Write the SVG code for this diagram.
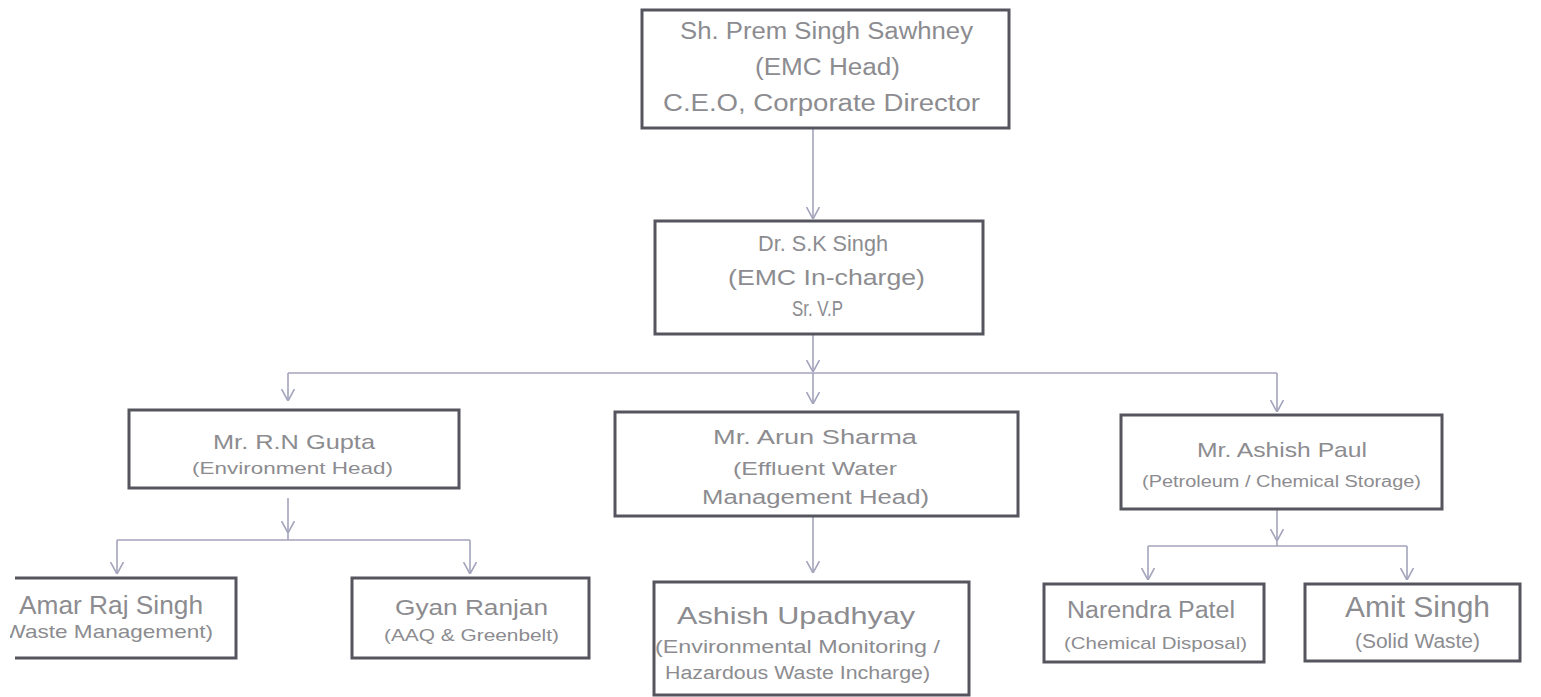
<svg xmlns="http://www.w3.org/2000/svg" width="1541" height="697" viewBox="0 0 1541 697">
<defs>
<style>
.box{fill:#fff;stroke:#55555f;stroke-width:3}
.t{font-family:"Liberation Sans",Arial,sans-serif;fill:#8c8c90}
.c{fill:none;stroke:#a4a4bc;stroke-width:1.6}
</style>
<marker id="ah" viewBox="0 0 12 14" refX="12" refY="7" markerWidth="12" markerHeight="14" markerUnits="userSpaceOnUse" orient="auto">
<path d="M0,0.5 L12,7 L0,13.5" fill="none" stroke="#a4a4bc" stroke-width="1.6"/>
</marker>
<clipPath id="clipL"><rect x="10" y="0" width="400" height="697"/></clipPath>
</defs>
<rect width="1541" height="697" fill="#fff"/>
<g id="connectors">
<path class="c" d="M813,128 V219" marker-end="url(#ah)"/>
<path class="c" d="M813,334 V372" marker-end="url(#ah)"/>
<path class="c" d="M288,373 H1277"/>
<path class="c" d="M288,373 V401" marker-end="url(#ah)"/>
<path class="c" d="M813,373 V404" marker-end="url(#ah)"/>
<path class="c" d="M1277,373 V412" marker-end="url(#ah)"/>
<path class="c" d="M288,498 V533" marker-end="url(#ah)"/>
<path class="c" d="M288,533 V540 M117,540 H470"/>
<path class="c" d="M117,540 V574" marker-end="url(#ah)"/>
<path class="c" d="M470,540 V574" marker-end="url(#ah)"/>
<path class="c" d="M813,516 V573" marker-end="url(#ah)"/>
<path class="c" d="M1277,510 V541" marker-end="url(#ah)"/>
<path class="c" d="M1277,541 V546 M1148,546 H1407"/>
<path class="c" d="M1148,546 V580" marker-end="url(#ah)"/>
<path class="c" d="M1407,546 V580" marker-end="url(#ah)"/>
</g>
<g id="n-sawhney">
<rect class="box" x="642" y="10" width="367" height="118"/>
<text class="t" x="680" y="39" font-size="23" textLength="293" lengthAdjust="spacingAndGlyphs">Sh. Prem Singh Sawhney</text>
<text class="t" x="755" y="75" font-size="23" textLength="145" lengthAdjust="spacingAndGlyphs">(EMC Head)</text>
<text class="t" x="663" y="111" font-size="23" textLength="317" lengthAdjust="spacingAndGlyphs">C.E.O, Corporate Director</text>
</g>
<g id="n-sksingh">
<rect class="box" x="655" y="221" width="328" height="113"/>
<text class="t" x="758" y="251" font-size="22" textLength="130" lengthAdjust="spacingAndGlyphs">Dr. S.K Singh</text>
<text class="t" x="728" y="285" font-size="22" textLength="197" lengthAdjust="spacingAndGlyphs">(EMC In-charge)</text>
<text class="t" x="792" y="316" font-size="22" textLength="51" lengthAdjust="spacingAndGlyphs">Sr. V.P</text>
</g>
<g id="n-rngupta">
<rect class="box" x="129" y="410" width="330" height="78"/>
<text class="t" x="213" y="449" font-size="21" textLength="162" lengthAdjust="spacingAndGlyphs">Mr. R.N Gupta</text>
<text class="t" x="192" y="474" font-size="17" textLength="201" lengthAdjust="spacingAndGlyphs">(Environment Head)</text>
</g>
<g id="n-arun">
<rect class="box" x="615" y="412" width="403" height="104"/>
<text class="t" x="713" y="444" font-size="20" textLength="204" lengthAdjust="spacingAndGlyphs">Mr. Arun Sharma</text>
<text class="t" x="733" y="475" font-size="19" textLength="164" lengthAdjust="spacingAndGlyphs">(Effluent Water</text>
<text class="t" x="702" y="504" font-size="20" textLength="227" lengthAdjust="spacingAndGlyphs">Management Head)</text>
</g>
<g id="n-paul">
<rect class="box" x="1121" y="415" width="321" height="94"/>
<text class="t" x="1197" y="457" font-size="21" textLength="170" lengthAdjust="spacingAndGlyphs">Mr. Ashish Paul</text>
<text class="t" x="1142" y="487" font-size="16" textLength="279" lengthAdjust="spacingAndGlyphs">(Petroleum / Chemical Storage)</text>
</g>
<g id="n-amar">
<g clip-path="url(#clipL)">
<path class="box" fill="none" d="M15,578 H236 V658 H15"/>
<text class="t" x="19" y="614" font-size="25" textLength="184" lengthAdjust="spacingAndGlyphs">Amar Raj Singh</text>
<text class="t" x="-3" y="638" font-size="19" textLength="216" lengthAdjust="spacingAndGlyphs">(Waste Management)</text>
</g>
</g>
<g id="n-gyan">
<rect class="box" x="352" y="578" width="237" height="80"/>
<text class="t" x="395" y="615" font-size="22" textLength="153" lengthAdjust="spacingAndGlyphs">Gyan Ranjan</text>
<text class="t" x="384" y="641" font-size="17" textLength="175" lengthAdjust="spacingAndGlyphs">(AAQ &amp; Greenbelt)</text>
</g>
<g id="n-upadhyay">
<rect class="box" x="654" y="582" width="315" height="113"/>
<text class="t" x="677" y="624" font-size="24" textLength="238" lengthAdjust="spacingAndGlyphs">Ashish Upadhyay</text>
<text class="t" x="655" y="653" font-size="18" textLength="285" lengthAdjust="spacingAndGlyphs">(Environmental Monitoring /</text>
<text class="t" x="665" y="679" font-size="18" textLength="265" lengthAdjust="spacingAndGlyphs">Hazardous Waste Incharge)</text>
</g>
<g id="n-narendra">
<rect class="box" x="1044" y="584" width="220" height="78"/>
<text class="t" x="1067" y="618" font-size="23" textLength="168" lengthAdjust="spacingAndGlyphs">Narendra Patel</text>
<text class="t" x="1064" y="649" font-size="17" textLength="183" lengthAdjust="spacingAndGlyphs">(Chemical Disposal)</text>
</g>
<g id="n-amit">
<rect class="box" x="1305" y="584" width="215" height="77"/>
<text class="t" x="1345" y="617" font-size="30" textLength="145" lengthAdjust="spacingAndGlyphs">Amit Singh</text>
<text class="t" x="1355" y="648" font-size="20" textLength="125" lengthAdjust="spacingAndGlyphs">(Solid Waste)</text>
</g>
</svg>
